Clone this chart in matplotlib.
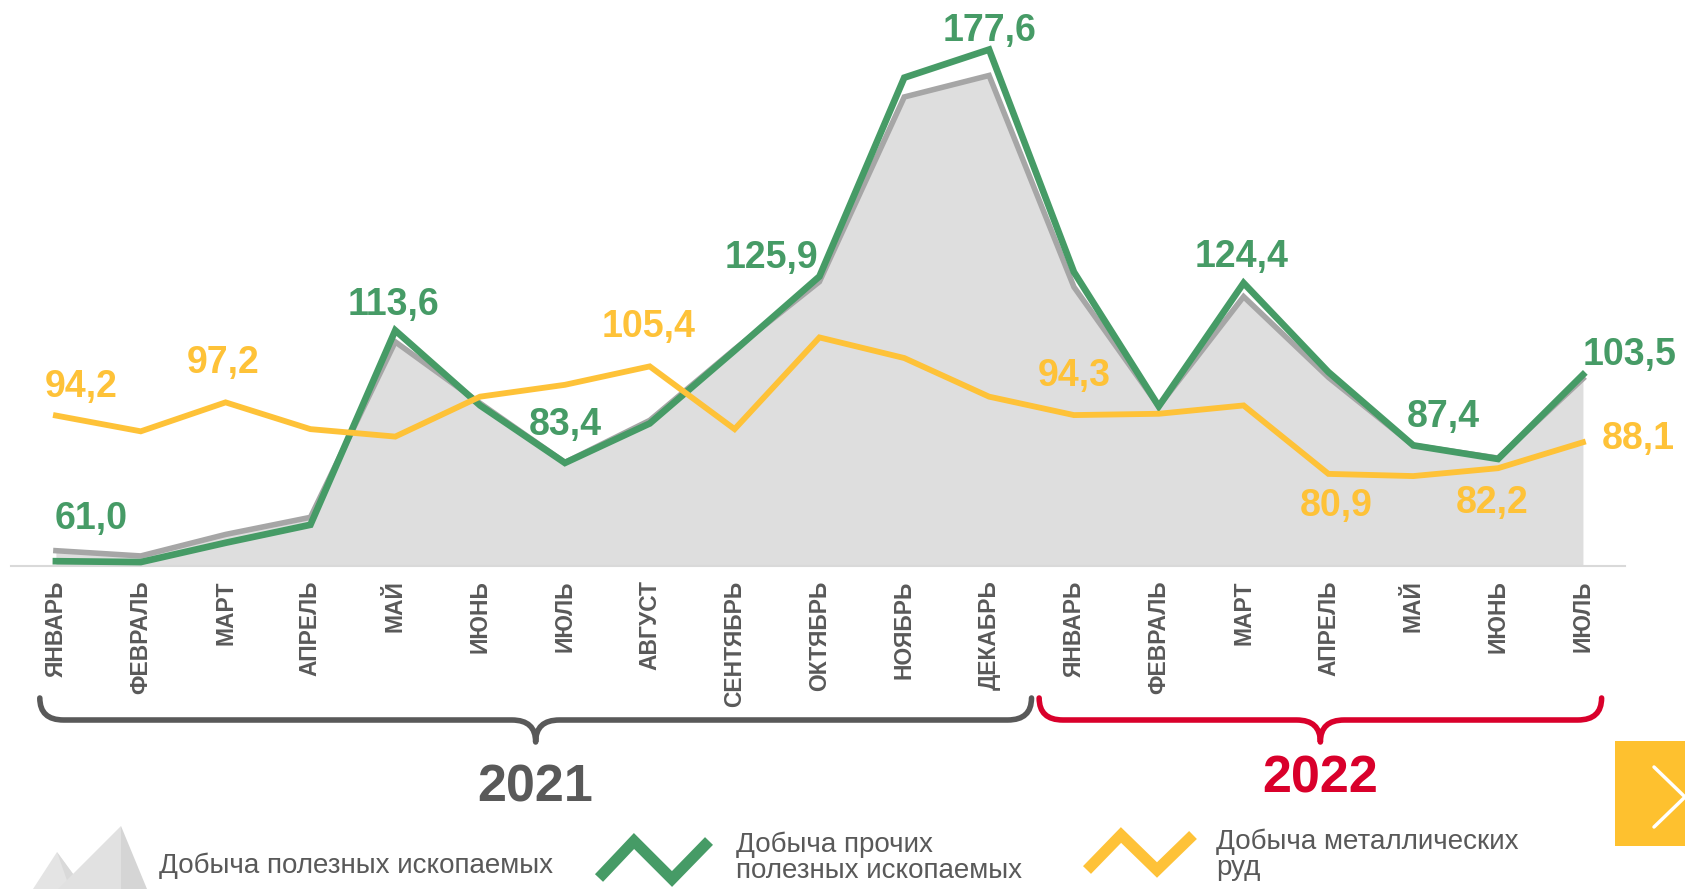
import matplotlib

matplotlib.use("Agg")
import matplotlib.pyplot as plt
import matplotlib.transforms as mtransforms
import numpy as np
from matplotlib.patches import PathPatch, Polygon, Rectangle
from matplotlib.path import Path

plt.rcParams["font.family"] = ["Liberation Sans", "DejaVu Sans"]

# --- data -----------------------------------------------------------------
months = [
    "ЯНВАРЬ", "ФЕВРАЛЬ", "МАРТ", "АПРЕЛЬ", "МАЙ", "ИЮНЬ", "ИЮЛЬ", "АВГУСТ",
    "СЕНТЯБРЬ", "ОКТЯБРЬ", "НОЯБРЬ", "ДЕКАБРЬ",
    "ЯНВАРЬ", "ФЕВРАЛЬ", "МАРТ", "АПРЕЛЬ", "МАЙ", "ИЮНЬ", "ИЮЛЬ",
]
total_mining = [63.4, 62.2, 67.1, 71.0, 111.0, 97.0, 83.5, 93.1, 109.3, 124.7,
                166.8, 171.7, 123.5, 96.3, 121.3, 102.9, 87.4, 84.5, 102.6]
other_mining = [61.0, 60.8, 65.2, 69.3, 113.6, 96.5, 83.4, 92.4, 109.0, 125.9,
                171.2, 177.6, 126.9, 96.3, 124.4, 104.1, 87.4, 84.3, 103.5]
metal_ores = [94.2, 90.6, 97.2, 91.1, 89.4, 98.5, 101.2, 105.4, 91.1, 112.0,
              107.3, 98.5, 94.3, 94.6, 96.5, 80.9, 80.4, 82.2, 88.1]

# which points get a value label: (index, dx, dy) offsets in pixels
other_labels = [(0, 35, 42), (4, -2, 25), (6, 0, 38), (9, -48, 18),
                (11, 0, 19), (14, -2, 26), (16, 30, 28), (18, 47, 20)]
metal_labels = [(0, 25, 29), (2, -2, 39), (7, -1, 39), (12, 0, 39),
                (15, 8, -32), (17, -6, -35), (18, 55, 3)]

years = ["2021", "2022"]
year_spans = [(-0.19, 11.50), (11.59, 18.22)]
year_colors = ["#595959", "#d9002b"]

GREEN = "#469b66"
YELLOW = "#fec238"
AREA = "#dedede"
AREA_LINE = "#a6a6a6"
TEXT_GRAY = "#595959"

W, H = 1685, 889
fig = plt.figure(figsize=(W / 100, H / 100), dpi=100)
ax = fig.add_axes([0.0064, 0.3628, 0.9579, 0.6372])

x = np.arange(len(months))
y_min = 59.8
ax.fill_between(x, total_mining, y_min, color=AREA, lw=0, zorder=1)
ax.plot(x, total_mining, color=AREA_LINE, lw=4, zorder=2,
        solid_joinstyle="miter")
ax.plot(x, other_mining, color=GREEN, lw=4.8, zorder=3,
        solid_joinstyle="miter")
ax.plot(x, metal_ores, color=YELLOW, lw=4.2, zorder=4,
        solid_joinstyle="miter")

for idx, dx, dy in other_labels:
    ax.annotate(f"{other_mining[idx]:.1f}".replace(".", ","),
                (x[idx], other_mining[idx]), xytext=(dx, dy),
                textcoords="offset pixels", ha="center", va="center",
                fontsize=27, fontweight="bold", color=GREEN, zorder=5)
for idx, dx, dy in metal_labels:
    ax.annotate(f"{metal_ores[idx]:.1f}".replace(".", ","),
                (x[idx], metal_ores[idx]), xytext=(dx, dy),
                textcoords="offset pixels", ha="center", va="center",
                fontsize=27, fontweight="bold", color=YELLOW, zorder=5)

ax.set_xlim(-0.532, 18.494)
ax.set_ylim(y_min, 188.9)
ax.set_xticks(x)
ax.set_xticklabels(months, rotation=90, fontsize=16.5, fontweight="bold",
                   color=TEXT_GRAY, va="top")
ax.tick_params(axis="x", length=0, pad=10)
ax.set_yticks([])
for side in ("top", "left", "right"):
    ax.spines[side].set_visible(False)
ax.spines["bottom"].set_color("#d9d9d9")
ax.spines["bottom"].set_linewidth(1.5)
ax.patch.set_alpha(0)

# year braces, x in data units, y in figure fraction
trans = mtransforms.blended_transform_factory(ax.transData, fig.transFigure)


def fy(px):
    return 1 - px / H


y_end, y_mid, y_tip = fy(698), fy(720), fy(742)
for (x0, x1), label, color in zip(year_spans, years, year_colors):
    xc = (x0 + x1) / 2
    r = 0.28
    verts = [
        (x0, y_end), (x0, y_mid), (x0 + r, y_mid),
        (xc - r, y_mid),
        (xc, y_mid), (xc, y_tip),
        (xc, y_mid), (xc + r, y_mid),
        (x1 - r, y_mid),
        (x1, y_mid), (x1, y_end),
    ]
    codes = [Path.MOVETO, Path.CURVE3, Path.CURVE3, Path.LINETO,
             Path.CURVE3, Path.CURVE3, Path.CURVE3, Path.CURVE3,
             Path.LINETO, Path.CURVE3, Path.CURVE3]
    brace = PathPatch(Path(verts, codes), transform=trans, fill=False,
                      edgecolor=color, lw=4, clip_on=False,
                      capstyle="round", joinstyle="round")
    fig.add_artist(brace)
    fig.text(xc, fy(788 if label == "2021" else 779), label, transform=trans,
             fontsize=37.5, fontweight="bold", color=color,
             ha="center", va="center")

# legend and decoration, in image pixels
deco = fig.add_axes([0, 0, 1, 1], zorder=-1)
deco.set_xlim(0, W)
deco.set_ylim(H, 0)
deco.axis("off")
deco.patch.set_alpha(0)

deco.add_patch(Polygon([(33, 889), (57, 852), (84, 889)], color="#e4e4e4",
                       lw=0))
deco.add_patch(Polygon([(57, 852), (84, 889), (70, 889)], color="#d9d9d9",
                       lw=0))
deco.add_patch(Polygon([(58, 889), (121, 826), (121, 889)], color="#e1e1e1",
                       lw=0))
deco.add_patch(Polygon([(121, 826), (147, 889), (121, 889)], color="#d5d5d5",
                       lw=0))

legend_font = ["Liberation Sans Narrow", "Liberation Sans", "DejaVu Sans"]
deco.text(159, 866, "Добыча полезных ископаемых", fontsize=20,
          family=legend_font, color=TEXT_GRAY, va="center", ha="left")

deco.plot([599, 634, 672, 709], [878, 841, 879, 841], color=GREEN, lw=8,
          solid_joinstyle="miter", solid_capstyle="butt")
deco.text(736, 858, "Добыча прочих\nполезных ископаемых", fontsize=20,
          family=legend_font, color=TEXT_GRAY, va="center", ha="left",
          linespacing=1.0)

deco.plot([1087, 1121, 1157, 1193], [870, 835, 870, 835], color=YELLOW, lw=8,
          solid_joinstyle="miter", solid_capstyle="butt")
deco.text(1216, 855, "Добыча металлических\nруд", fontsize=20,
          family=legend_font, color=TEXT_GRAY, va="center", ha="left",
          linespacing=1.0)

deco.add_patch(Rectangle((1615, 741), 80, 105, color="#fec12f", lw=0))
deco.plot([1654, 1685, 1654], [767, 797, 827], color="white", lw=2.5,
          solid_capstyle="round")

fig.savefig("out.png", dpi=100)
